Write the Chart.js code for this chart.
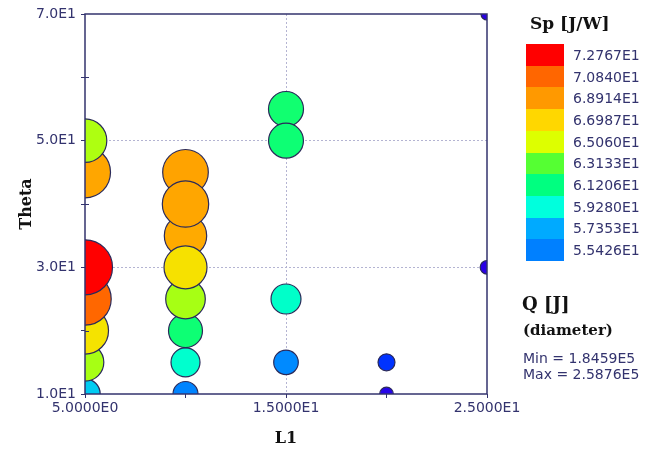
<!DOCTYPE html>
<html>
<head>
<meta charset="utf-8">
<script src="https://cdn.jsdelivr.net/npm/chart.js@4"></script>
<style>
  html, body { margin: 0; padding: 0; background: #ffffff; }
  #wrap { position: relative; width: 654px; height: 450px; overflow: hidden; }
  #c { position: absolute; left: 0; top: 0; }
  .txt { position: absolute; white-space: nowrap; color: #33336e; }
  .serif { font-family: "DejaVu Serif", serif; font-weight: bold; color: #111111; }
  .sans { font-family: "DejaVu Sans", sans-serif; font-size: 14px; }
  .sw { position: absolute; left: 526px; width: 38px; }
</style>
</head>
<body>
<div id="wrap">
  <canvas id="c" width="654" height="450"></canvas>
  <div id="legend"></div>
</div>
<script>
// Design points: L1, Theta, specific performance Sp [J/W] and energy Q [J]
const L1    = [5, 5, 5, 5, 5, 5, 5,
               10, 10, 10, 10, 10, 10, 10, 10,
               15, 15, 15, 15,
               20, 20,
               25, 25];
const theta = [10, 15, 20, 25, 30, 45, 50,
               45, 35, 40, 10, 15, 20, 25, 30,
               55, 50, 25, 15,
               15, 10,
               30, 70];
const Sp    = [58.1, 64.3, 66.4, 70.8, 72.77, 68.5, 64.4,
               68.6, 68.4, 68.5, 55.6, 59.6, 61.5, 64.3, 66.5,
               61.6, 61.5, 59.7, 55.9,
               53.6, 51.9,
               51.6, 51.5];
const Q     = [2.163e5, 2.288e5, 2.450e5, 2.543e5, 2.5876e5, 2.519e5, 2.391e5,
               2.426e5, 2.370e5, 2.439e5, 2.070e5, 2.139e5, 2.225e5, 2.322e5, 2.381e5,
               2.243e5, 2.241e5, 2.156e5, 2.063e5,
               1.932e5, 1.874e5,
               1.875e5, 1.8459e5];

// Colour legend for Sp
const spTicks  = [72.767, 70.840, 68.914, 66.987, 65.060, 63.133, 61.206, 59.280, 57.353, 55.426];
const spLabels = ['7.2767E1', '7.0840E1', '6.8914E1', '6.6987E1', '6.5060E1',
                  '6.3133E1', '6.1206E1', '5.9280E1', '5.7353E1', '5.5426E1'];
const spColors = ['#ff0000', '#ff6600', '#ff9900', '#ffd700', '#ddff00',
                  '#55ff33', '#00ff80', '#00ffdd', '#00aaff', '#0080ff'];
// continuation of the scale below the lowest legend entry
const lowTicks  = [53.6, 51.7];
const lowColors = ['#0033ff', '#2a00e6'];

// Size legend for Q
const qMin = 1.8459e5, qMax = 2.5876e5;
const qLabels = ['Min = 1.8459E5', 'Max = 2.5876E5'];

const xTickLabels = { 5: '5.0000E0', 15: '1.5000E1', 25: '2.5000E1' };
const yTickLabels = { 10: '1.0E1', 30: '3.0E1', 50: '5.0E1', 70: '7.0E1' };

const INK = '#33336e';
const TICK_FONT = { family: 'DejaVu Sans', size: 14 };
const TITLE_FONT = { family: 'DejaVu Serif', size: 16, weight: 'bold' };

function hexToRgb(h) {
  const n = parseInt(h.slice(1), 16);
  return [(n >> 16) & 255, (n >> 8) & 255, n & 255];
}
const stops = spTicks.concat(lowTicks).map((v, i) => ({ v, c: hexToRgb(spColors.concat(lowColors)[i]) }));
function spColor(v) {
  if (v >= stops[0].v) return 'rgb(' + stops[0].c.join(',') + ')';
  for (let i = 0; i < stops.length - 1; i++) {
    const a = stops[i], b = stops[i + 1];
    if (v <= a.v && v >= b.v) {
      const t = (a.v - v) / (a.v - b.v);
      const c = a.c.map((x, k) => Math.round(x + (b.c[k] - x) * t));
      return 'rgb(' + c.join(',') + ')';
    }
  }
  return 'rgb(' + stops[stops.length - 1].c.join(',') + ')';
}
function qRadius(q) {
  return 6 + (q - qMin) / (qMax - qMin) * 21.5;
}

const points = L1.map((x, i) => ({ x, y: theta[i], r: qRadius(Q[i]) }));

// outline of the plot area plus small inner ticks at unlabeled Theta values
const framePlugin = {
  id: 'frame',
  afterDatasetsDraw(chart) {
    const { ctx, chartArea: a, scales } = chart;
    ctx.save();
    ctx.strokeStyle = INK;
    ctx.lineWidth = 1.5;
    ctx.strokeRect(a.left, a.top, a.right - a.left, a.bottom - a.top);
    ctx.lineWidth = 1;
    [20, 40, 60].forEach(v => {
      const y = Math.round(scales.y.getPixelForValue(v)) + 0.5;
      ctx.beginPath();
      ctx.moveTo(a.left, y);
      ctx.lineTo(a.left + 4, y);
      ctx.stroke();
    });
    ctx.restore();
  }
};

new Chart(document.getElementById('c'), {
  type: 'bubble',
  data: {
    datasets: [{
      data: points,
      backgroundColor: Sp.map(spColor),
      borderColor: '#2a2a5a',
      borderWidth: 1.2,
      clip: 0
    }]
  },
  plugins: [framePlugin],
  options: {
    responsive: false,
    animation: false,
    events: [],
    layout: { autoPadding: false, padding: { left: 0, right: 167, top: 14, bottom: 0 } },
    plugins: { legend: { display: false }, tooltip: { enabled: false } },
    scales: {
      x: {
        type: 'linear', min: 5, max: 25,
        border: { display: false, dash: [2, 2] },
        grid: {
          color: ctx => ctx.tick && ctx.tick.value === 15 ? '#b4b4d2' : 'rgba(0,0,0,0)',
          tickColor: INK, tickLength: 4, lineWidth: 1
        },
        ticks: {
          stepSize: 5, autoSkip: false, maxRotation: 0, padding: 2,
          color: INK, font: TICK_FONT,
          callback: v => xTickLabels[v] || ''
        },
        title: { display: true, text: 'L1', color: '#111111', font: TITLE_FONT, padding: { top: 4, bottom: 2 } },
        afterFit: s => { s.height = 56; }
      },
      y: {
        type: 'linear', min: 10, max: 70,
        border: { display: false, dash: [2, 2] },
        grid: {
          color: ctx => ctx.tick && (ctx.tick.value === 30 || ctx.tick.value === 50) ? '#b4b4d2' : 'rgba(0,0,0,0)',
          tickColor: INK, tickLength: 4, lineWidth: 1
        },
        ticks: {
          stepSize: 10, autoSkip: false, padding: 5,
          color: INK, font: TICK_FONT,
          callback: v => yTickLabels[v] || ''
        },
        title: { display: true, text: 'Theta', color: '#111111', font: TITLE_FONT, padding: { top: 17, bottom: 4 } },
        afterFit: s => { s.width = 85; }
      }
    }
  }
});

// legends at the right
const leg = document.getElementById('legend');
function addText(text, cls, left, centerY, size, lh) {
  const d = document.createElement('div');
  d.className = 'txt ' + cls;
  d.textContent = text;
  d.style.left = left + 'px';
  d.style.top = (centerY - lh / 2) + 'px';
  d.style.lineHeight = lh + 'px';
  d.style.fontSize = size + 'px';
  leg.appendChild(d);
}
addText('Sp [J/W]', 'serif', 530, 23, 17, 22);
const swTop = 44, swH = 21.7;
spColors.forEach((c, i) => {
  const s = document.createElement('div');
  s.className = 'sw';
  s.style.top = (swTop + i * swH) + 'px';
  s.style.height = (swH + 0.5) + 'px';
  s.style.background = c;
  leg.appendChild(s);
  addText(spLabels[i], 'sans', 573, swTop + i * swH + swH / 2, 14, 18);
});
addText('Q [J]', 'serif', 522, 304, 18, 22);
addText('(diameter)', 'serif', 523, 330, 15, 20);
addText(qLabels[0], 'sans', 523, 358, 14, 18);
addText(qLabels[1], 'sans', 523, 374, 14, 18);
</script>
</body>
</html>
